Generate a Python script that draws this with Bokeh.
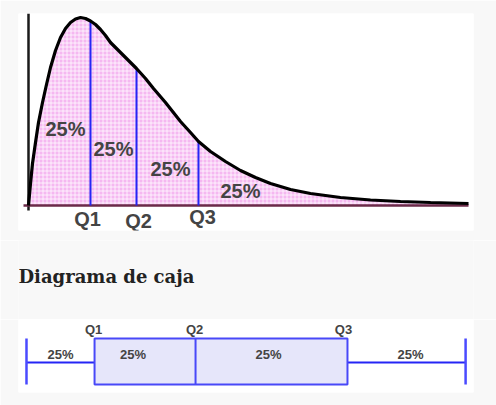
from bokeh.plotting import figure
from bokeh.models import Range1d, ColumnDataSource
from bokeh.layouts import column
from bokeh.core.properties import value
from bokeh.embed import file_html
from bokeh.resources import INLINE

# ---- density curve (arbitrary units) ----
curve_x = [0, 0.2, 0.4, 0.7, 1.0, 1.4, 1.8, 2.2, 2.7, 3.2, 3.7, 4.2, 4.7, 5.2, 5.7,
           6.2, 6.7, 7.2, 7.7, 8.2, 9.2, 10.0, 10.8, 11.7, 12.5, 13.7, 15.2, 16.2,
           17.0, 18.2, 19.7, 21.2, 22.7, 24.2, 26.2, 28.2, 31.2, 34.2, 37.2, 40.2, 44.0]
curve_y = [0, 2.2, 4.2, 6.3, 8.3, 10.3, 12.1, 13.8, 15.5, 16.8, 17.7, 18.3, 18.65, 18.8, 18.7,
           18.45, 18.1, 17.6, 17.0, 16.3, 15.3, 14.5, 13.7, 12.7, 11.7, 10.3, 8.4, 7.3,
           6.4, 5.4, 4.4, 3.5, 2.8, 2.2, 1.6, 1.2, 0.8, 0.55, 0.4, 0.3, 0.2]

quartile_names = ["Q1", "Q2", "Q3"]
quartile_x = [6.2, 10.8, 17.0]
quartile_top = [18.45, 13.7, 6.4]
share_labels = ["25%", "25%", "25%", "25%"]

section_title = "Diagrama de caja"

# ---- box plot (0 = minimum, 100 = maximum) ----
box_min, box_q1, box_q2, box_q3, box_max = 0.0, 15.5, 38.5, 73.1, 100.0

BG = "#f8f8f8"
TXT = "#444444"
BLUE = "#2525f5"

# ================= top figure =================
p1 = figure(width=496, height=240, output_backend="svg", toolbar_location=None,
            x_range=Range1d(-1.0, 44.5), y_range=Range1d(-2.5, 19.2),
            x_axis_location=None, y_axis_location=None,
            min_border_left=18, min_border_right=23, min_border_top=13, min_border_bottom=10)
p1.border_fill_color = BG
p1.background_fill_color = "white"
p1.outline_line_color = None
p1.grid.visible = False

p1.varea(x=curve_x, y1=[0] * len(curve_x), y2=curve_y,
         fill_color="#f5b8f1", hatch_pattern="+", hatch_color="white",
         hatch_scale=4, hatch_weight=1, hatch_alpha=0.75)

# y axis and x axis drawn lines
p1.segment(x0=[0], y0=[-0.5], x1=[0], y1=[19.2], line_color="#1a1a1a", line_width=2.5)
p1.segment(x0=[-0.5], y0=[0], x1=[44.0], y1=[0], line_color="#6b2a48", line_width=2.5)

# quartile verticals
p1.segment(x0=quartile_x, y0=[0] * 3, x1=quartile_x, y1=quartile_top,
           line_color=BLUE, line_width=2)

p1.line(curve_x, curve_y, line_color="black", line_width=3.2)

# share labels
lab_x = [3.7, 8.5, 14.2, 21.2]
lab_y = [7.7, 5.7, 3.7, 1.5]
p1.text(x=lab_x, y=lab_y, text=share_labels, text_font=value("Liberation Sans"),
        text_font_style="bold", text_font_size="20px", text_color=TXT,
        text_align="center", text_baseline="middle")

# quartile labels
q_src = ColumnDataSource(dict(x=quartile_x, t=quartile_names,
                              y=[-1.3, -1.5, -1.1], dx=[-3, 2, 4]))
p1.text(x="x", y="y", text="t", x_offset="dx", source=q_src,
        text_font=value("Liberation Sans"), text_font_style="bold",
        text_font_size="20px", text_color=TXT, text_align="center", text_baseline="middle")

# ================= heading strip =================
pt = figure(width=496, height=79, output_backend="svg", toolbar_location=None,
            x_range=Range1d(0, 455), y_range=Range1d(0, 79),
            x_axis_location=None, y_axis_location=None,
            min_border_left=18, min_border_right=23, min_border_top=0, min_border_bottom=0)
pt.border_fill_color = BG
pt.background_fill_color = BG
pt.outline_line_color = None
pt.grid.visible = False
pt.text(x=[0], y=[43], text=[section_title], text_font=value("DejaVu Serif"),
        text_font_style="bold", text_font_size="18px", text_color="#222222",
        text_align="left", text_baseline="alphabetic")

# ================= bottom figure =================
p2 = figure(width=496, height=86, output_backend="svg", toolbar_location=None,
            x_range=Range1d(-1.82, 101.8), y_range=Range1d(-30, 43),
            x_axis_location=None, y_axis_location=None,
            min_border_left=18, min_border_right=23, min_border_top=0, min_border_bottom=13)
p2.border_fill_color = BG
p2.background_fill_color = "white"
p2.outline_line_color = None
p2.grid.visible = False

# whiskers
p2.segment(x0=[box_min, box_q3], y0=[0, 0], x1=[box_q1, box_max], y1=[0, 0],
           line_color=BLUE, line_width=2)
p2.segment(x0=[box_min, box_max], y0=[-22, -22], x1=[box_min, box_max], y1=[24, 24],
           line_color="#4a4aff", line_width=2.5)
# box
p2.quad(left=[box_q1], right=[box_q3], bottom=[-22], top=[24],
        fill_color="#e6e6fa", line_color="#4848f8", line_width=2)
p2.segment(x0=[box_q2], y0=[-22], x1=[box_q2], y1=[24], line_color="#4848f8", line_width=2)

# labels
p2.text(x=[box_q1, box_q2, box_q3], y=[33, 33, 33], text=quartile_names,
        x_offset=[-1, -1, -4],
        text_font=value("Liberation Sans"), text_font_style="bold", text_font_size="13px",
        text_color=TXT, text_align="center", text_baseline="middle")
seg_mid = [(box_min + box_q1) / 2, (box_q1 + box_q2) / 2, (box_q2 + box_q3) / 2, (box_q3 + box_max) / 2]
p2.text(x=seg_mid, y=[8] * 4, text=share_labels, x_offset=[0, -12, -3, 4],
        text_font=value("Liberation Sans"), text_font_style="bold", text_font_size="13px",
        text_color=TXT, text_align="center", text_baseline="middle")

layout = column(p1, pt, p2, spacing=0)
open("out.html", "w").write(file_html(layout, INLINE))
